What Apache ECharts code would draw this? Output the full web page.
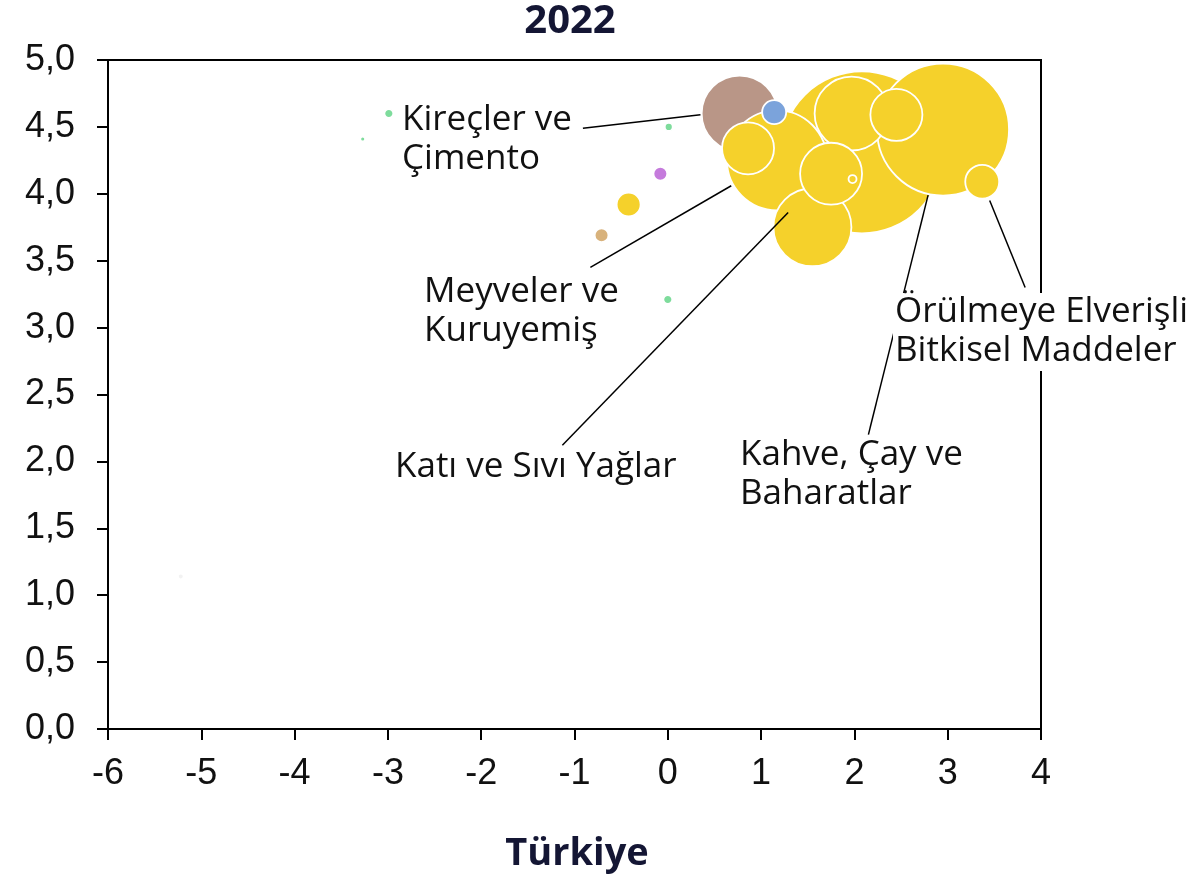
<!DOCTYPE html>
<html>
<head>
<meta charset="utf-8">
<script src="https://cdn.jsdelivr.net/npm/echarts@6/dist/echarts.min.js"></script>
<style>
  html, body { margin: 0; padding: 0; background: #fff; }
  #chart { width: 1196px; height: 883px; }
</style>
</head>
<body>
<div id="chart"></div>
<script>
// bubble data (draw order: back to front)
var xVals = [2.08, 0.77, 1.17, 2.95, 1.97, 2.45, 1.55, 1.75, 1.98, 0.86, 3.37, 1.14,
  -2.99, -3.27, 0.01, -0.08, -0.42, -0.71, 0.00, -5.22];
var yVals = [4.31, 4.60, 4.25, 4.48, 4.60, 4.59, 3.75, 4.15, 4.11, 4.34, 4.09, 4.61,
  4.60, 4.41, 4.50, 4.15, 3.92, 3.69, 3.21, 1.14];
var sizeVals = [1640, 361, 625, 1089, 342, 169, 380, 240, 4, 169, 72, 36,
  5, 1.5, 4, 12, 36, 12, 5, 2];
var groups = ['bitki', 'maden', 'bitki', 'bitki', 'bitki', 'bitki', 'bitki', 'bitki', 'bitki', 'bitki', 'bitki', 'kimya',
  'canli', 'canli', 'canli', 'diger', 'bitki', 'hayvan', 'canli', 'bos'];

var xTicks = [-6, -5, -4, -3, -2, -1, 0, 1, 2, 3, 4];
var yTicks = [0, 0.5, 1, 1.5, 2, 2.5, 3, 3.5, 4, 4.5, 5];

// annotations: label text + leader line (from label to bubble, data coords)
var noteTexts = ['Kireçler ve\nÇimento', 'Meyveler ve\nKuruyemiş', 'Katı ve Sıvı Yağlar',
  'Kahve, Çay ve\nBaharatlar', 'Örülmeye Elverişli\nBitkisel Maddeler'];
var noteFrom = [[-0.91, 4.49], [-0.83, 3.45], [-1.13, 2.12], [2.15, 2.2], [3.83, 3.3]];
var noteTo = [[0.35, 4.59], [0.68, 4.06], [1.29, 3.86], [2.79, 3.99], [3.45, 3.95]];

var colorMap = {
  bitki: '#F5D12B',
  maden: '#B99687',
  kimya: '#7BA3DB',
  canli: '#7EDC9C',
  diger: '#C57BDC',
  hayvan: '#D8B27C',
  bos: '#f2f2f2'
};

var pts = [];
for (var i = 0; i < xVals.length; i++) {
  pts.push({
    value: [xVals[i], yVals[i], sizeVals[i]],
    itemStyle: { color: colorMap[groups[i]] }
  });
}

var lines = [];
for (var j = 0; j < noteFrom.length; j++) {
  lines.push([{ coord: noteFrom[j] }, { coord: noteTo[j] }]);
}

var font = '"Open Sans", sans-serif';
var tickFont = '"Liberation Sans", Arial, sans-serif';

var myChart = echarts.init(document.getElementById('chart'));
var option = {
  animation: false,
  title: [{
    text: '2022',
    left: 565,
    top: -3,
    textAlign: 'center',
    textStyle: { fontFamily: font, fontSize: 40, fontWeight: 'bold', color: '#141634' }
  }, {
    text: 'Türkiye',
    left: 572,
    top: 830,
    textAlign: 'center',
    textStyle: { fontFamily: font, fontSize: 38, fontWeight: 'bold', color: '#141634' }
  }],
  grid: {
    left: 108,
    right: 155,
    top: 60,
    bottom: 154,
    show: true,
    borderColor: '#000',
    borderWidth: 2
  },
  xAxis: {
    type: 'value',
    min: xTicks[0],
    max: xTicks[xTicks.length - 1],
    interval: 1,
    axisLine: { onZero: false, lineStyle: { color: '#000', width: 2 } },
    axisTick: { show: true, length: 11, lineStyle: { color: '#000', width: 2 } },
    axisLabel: { color: '#111', fontSize: 36, fontFamily: tickFont, margin: 27 },
    splitLine: { show: false }
  },
  yAxis: {
    type: 'value',
    min: yTicks[0],
    max: yTicks[yTicks.length - 1],
    interval: 0.5,
    axisLine: { show: true, onZero: false, lineStyle: { color: '#000', width: 2 } },
    axisTick: { show: true, length: 11, lineStyle: { color: '#000', width: 2 } },
    axisLabel: {
      color: '#111', fontSize: 36, fontFamily: tickFont, margin: 33,
      formatter: function (v) { return v.toFixed(1).replace('.', ','); }
    },
    splitLine: { show: false }
  },
  series: [{
    type: 'scatter',
    data: pts,
    symbolSize: function (d) { return 4 * Math.sqrt(d[2]); },
    itemStyle: { borderColor: '#fff', borderWidth: 1.8, opacity: 1 },
    emphasis: { disabled: true },
    z: 2,
    markLine: {
      silent: true,
      symbol: ['none', 'none'],
      label: { show: false },
      lineStyle: { color: '#000', width: 1.5, type: 'solid' },
      data: lines
    }
  }]
};
myChart.setOption(option);

// label texts next to the start of each leader line
var offs = [[400, 140], [422, 312], [393, 467], [738, 475], [893, 332]];
var gfx = [];
for (var m = 0; m < noteTexts.length; m++) {
  gfx.push({
    type: 'text',
    x: offs[m][0],
    y: offs[m][1],
    z: 100,
    style: {
      text: noteTexts[m],
      font: '35px ' + font,
      fill: '#111',
      lineHeight: 39,
      verticalAlign: 'middle',
      backgroundColor: '#fff',
      padding: [0, 2]
    }
  });
}
myChart.setOption({ graphic: gfx });
</script>
</body>
</html>
